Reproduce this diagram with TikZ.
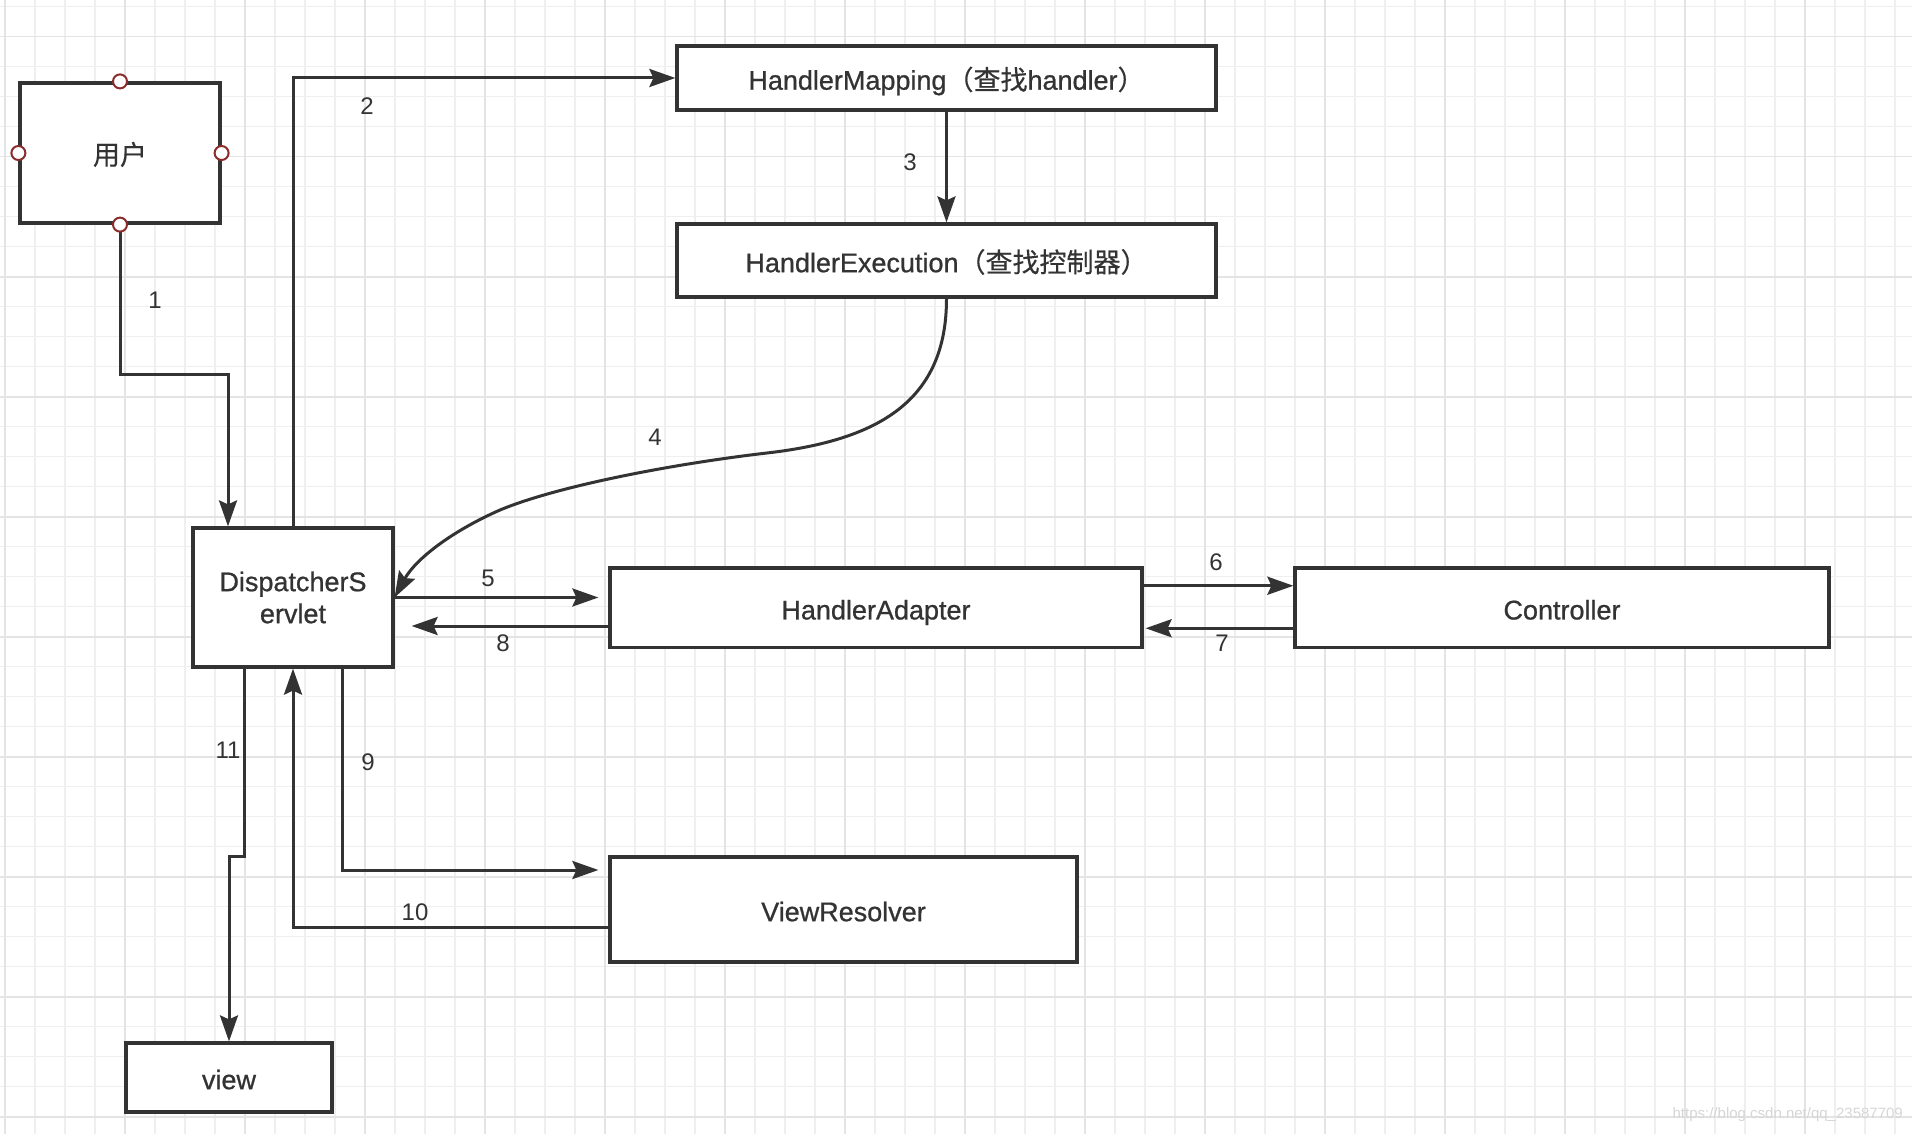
\documentclass[tikz,border=0pt]{standalone}
\usepackage{fontspec}
\setmainfont{Liberation Sans}
\newfontfamily\cjk{Noto Sans CJK SC}
\newfontfamily\boxfont{Liberation Sans}[FakeBold=0.8]
\newfontfamily\boxcjk{Noto Sans CJK SC}[FakeBold=0.4]
\usetikzlibrary{arrows.meta,calc}
\definecolor{ink}{HTML}{333333}
\definecolor{gridminor}{HTML}{EFEFEF}
\definecolor{gridmajor}{HTML}{E4E4E4}
\definecolor{portred}{HTML}{8B2C2C}
\begin{document}
\begin{tikzpicture}[x=1pt,y=-1pt,
  box/.style={draw=ink, line width=3.2pt, fill=white, inner sep=0pt, text=ink,
    font=\boxfont\fontsize{27}{32}\selectfont, align=center},
  oneline/.style={text height=23.4pt, text depth=0pt},
  arr/.style={draw=ink, line width=3pt, -{Stealth[length=26pt,width=18pt,inset=4pt]}},
  lbl/.style={font=\fontsize{24}{28}\selectfont, text=ink, inner sep=0pt},
  port/.style={circle, draw=portred, fill=white, line width=2pt, minimum size=14pt, inner sep=0pt},
  minorline/.style={draw=gridminor, line width=1.2pt},
  majorline/.style={draw=gridmajor, line width=1.6pt}]
% background and bounding box
\fill[white] (0,0) rectangle (1912,1134);
\useasboundingbox (0,0) rectangle (1912,1134);
% grid
\foreach \i in {0,...,63} \draw[minorline] ({5+30*\i},0) -- ({5+30*\i},1134);
\foreach \j in {0,...,37} \draw[minorline] (0,{6.7+30*\j}) -- (1912,{6.7+30*\j});
\foreach \i in {0,...,15} \draw[majorline] ({5+120*\i},0) -- ({5+120*\i},1134);
\foreach \j in {0,...,9} \draw[majorline] (0,{36.7+120*\j}) -- (1912,{36.7+120*\j});

% nodes
\node[box, oneline, minimum width=200pt, minimum height=140pt] (user) at (120,153) {{\boxcjk 用户}};
\node[box, minimum width=200pt, minimum height=139pt] (ds) at (293,597.5) {\raisebox{-2pt}{DispatcherS}\\\raisebox{-2pt}{ervlet}};
\node[box, oneline, minimum width=539pt, minimum height=64pt] (hm) at (946.5,78) {HandlerMapping{\boxcjk （查找}handler{\boxcjk ）}};
\node[box, oneline, minimum width=539pt, minimum height=73pt] (he) at (946.5,260.5) {HandlerExecution{\boxcjk （查找控制器）}};
\node[box, oneline, minimum width=532pt, minimum height=79.5pt] (ha) at (876,607.75) {HandlerAdapter};
\node[box, oneline, minimum width=534pt, minimum height=79.5pt] (ctrl) at (1562,607.75) {Controller};
\node[box, oneline, minimum width=467pt, minimum height=105pt] (vr) at (843.5,909.5) {ViewResolver};
\node[box, oneline, minimum width=206pt, minimum height=69pt] (view) at (229,1077.5) {view};

% helper coordinates
\coordinate (a8) at ([yshift=-18.25pt]ha.west);
\coordinate (a6) at ([yshift=22pt]ha.east);
\coordinate (a7) at ([yshift=-20.5pt]ctrl.west);
\coordinate (s9) at ([xshift=49pt]ds.south);
\coordinate (e9) at ([yshift=39.5pt]vr.west);
\coordinate (s10) at ([yshift=-17.5pt]vr.west);
\coordinate (s11) at ([xshift=-49pt]ds.south);
\coordinate (c4a) at (767,453);
\coordinate (c4b) at (500,510);

% connectors
\draw[arr] (user.south) -- (user.south |- 0,374) -| ([xshift=-65pt]ds.north);
\draw[arr] (ds.north) -- (ds.north |- hm.west) -- (hm.west);
\draw[arr] (hm.south) -- (he.north);
\draw[arr] (he.south) .. controls (946.5,400) and (880,440) .. (c4a)
  .. controls (680,463) and (560,485) .. (c4b)
  .. controls (450,532) and (415,560) .. (ds.east);
\draw[arr, shorten >=10pt] (ds.east) -- (ds.east -| ha.west);
\draw[arr, shorten >=17pt] (a8) -- (a8 -| ds.east);
\draw[arr] (a6) -- (a6 -| ctrl.west);
\draw[arr, shorten >=2pt] (a7) -- (a7 -| ha.east);
\draw[arr, shorten >=10pt] (s9) |- (e9);
\draw[arr] (s10) -| (ds.south);
\draw[arr] (s11) -- (s11 |- 0,856) -| (view.north);

% ports on user box
\foreach \a in {north,south,east,west} \node[port] (p-\a) at (user.\a) {};

% labels
\node[lbl] (l1) at (155,300) {1};
\node[lbl] (l2) at (367,106) {2};
\node[lbl] (l3) at (910,162) {3};
\node[lbl] (l4) at (655,437) {4};
\node[lbl] (l5) at (488,578) {5};
\node[lbl] (l6) at (1216,562) {6};
\node[lbl] (l7) at (1222,643) {7};
\node[lbl] (l8) at (503,643) {8};
\node[lbl] (l9) at (368,762) {9};
\node[lbl] (l10) at (415,912) {10};
\node[lbl] (l11) at (228,750) {11};

% watermark
\node[anchor=east, inner sep=0pt, font=\fontsize{15}{18}\selectfont, text=black!16] (wm) at (1903,1115) {https://blog.csdn.net/qq\_23587709};
\end{tikzpicture}
\end{document}
